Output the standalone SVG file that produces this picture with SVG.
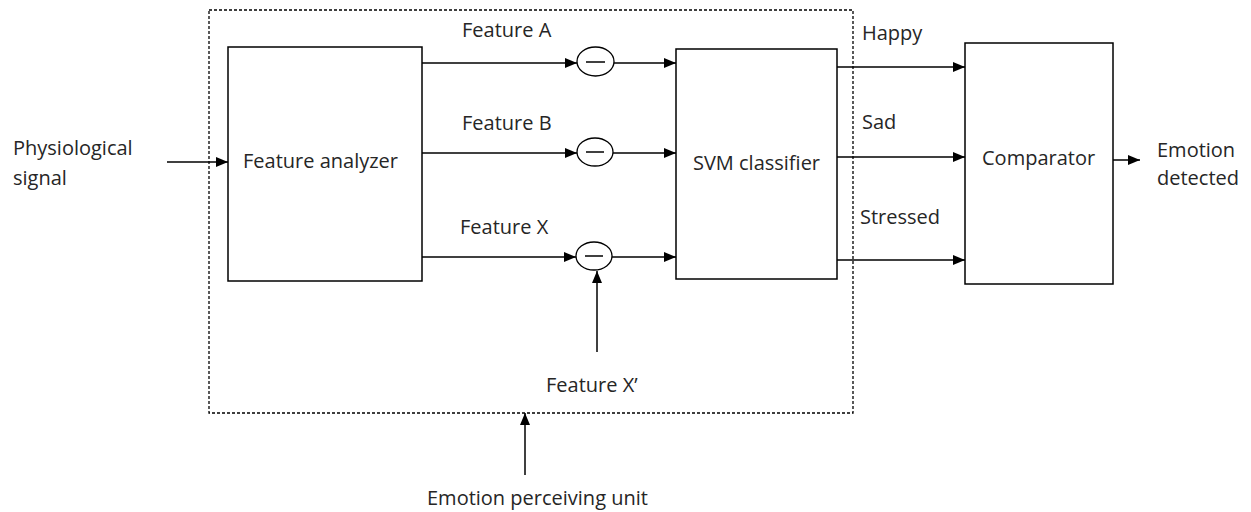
<svg xmlns="http://www.w3.org/2000/svg" width="1251" height="512" viewBox="0 0 1251 512">
<style>
.box{fill:#fff;stroke:#000;stroke-width:1.5}
.ln{fill:none;stroke:#000;stroke-width:1.5}
.t{font-family:"Open Sans","Liberation Sans",sans-serif;font-size:20px;fill:#262626}
.sub{fill:#fff;stroke:#000;stroke-width:1.3}
</style>
<defs>
<marker id="ah" markerWidth="12" markerHeight="10" refX="12" refY="5" orient="auto" markerUnits="userSpaceOnUse">
<path d="M0,0 L12,5 L0,10 Z" fill="#000"/>
</marker>
</defs>
<rect x="0" y="0" width="1251" height="512" fill="#fff"/>
<g id="unit">
<rect x="209" y="10" width="644" height="403" fill="none" stroke="#000" stroke-width="1.3" stroke-dasharray="3,2"/>
</g>
<g id="connectors">
<line class="ln" x1="167" y1="162" x2="228" y2="162" marker-end="url(#ah)"/>
<line class="ln" x1="422" y1="63" x2="577" y2="63" marker-end="url(#ah)"/>
<line class="ln" x1="614" y1="63" x2="676" y2="63" marker-end="url(#ah)"/>
<line class="ln" x1="422" y1="153" x2="577" y2="153" marker-end="url(#ah)"/>
<line class="ln" x1="613" y1="153" x2="676" y2="153" marker-end="url(#ah)"/>
<line class="ln" x1="422" y1="257" x2="576" y2="257" marker-end="url(#ah)"/>
<line class="ln" x1="612" y1="257" x2="676" y2="257" marker-end="url(#ah)"/>
<line class="ln" x1="597" y1="352" x2="597" y2="271" marker-end="url(#ah)"/>
<line class="ln" x1="837" y1="67" x2="965" y2="67" marker-end="url(#ah)"/>
<line class="ln" x1="837" y1="157" x2="965" y2="157" marker-end="url(#ah)"/>
<line class="ln" x1="837" y1="260" x2="965" y2="260" marker-end="url(#ah)"/>
<line class="ln" x1="1113" y1="160" x2="1140" y2="160" marker-end="url(#ah)"/>
<line class="ln" x1="525" y1="475" x2="525" y2="413" marker-end="url(#ah)"/>
</g>
<g id="analyzer">
<rect class="box" x="228" y="47" width="194" height="234"/>
<text class="t" x="243" y="168">Feature analyzer</text>
</g>
<g id="subA">
<ellipse class="sub" cx="595.5" cy="61.5" rx="18.5" ry="14.5"/>
<line class="ln" x1="586" y1="62" x2="605" y2="62"/>
</g>
<g id="subB">
<ellipse class="sub" cx="595" cy="152" rx="18" ry="14"/>
<line class="ln" x1="586" y1="152" x2="604" y2="152"/>
</g>
<g id="subX">
<ellipse class="sub" cx="594" cy="256" rx="18" ry="14"/>
<line class="ln" x1="585" y1="256" x2="603" y2="256"/>
</g>
<g id="svm">
<rect class="box" x="676" y="49" width="161" height="230"/>
<text class="t" x="756.5" y="170" text-anchor="middle">SVM classifier</text>
</g>
<g id="comparator">
<rect class="box" x="965" y="43" width="148" height="241"/>
<text class="t" x="982" y="165">Comparator</text>
</g>
<g id="labels">
<text class="t" x="13" y="155">Physiological</text>
<text class="t" x="13" y="185">signal</text>
<text class="t" x="462" y="37">Feature A</text>
<text class="t" x="462" y="130">Feature B</text>
<text class="t" x="460" y="234">Feature X</text>
<text class="t" x="546" y="392">Feature X’</text>
<text class="t" x="862" y="40">Happy</text>
<text class="t" x="862" y="129">Sad</text>
<text class="t" x="860" y="224">Stressed</text>
<text class="t" x="1157" y="157">Emotion</text>
<text class="t" x="1157" y="185">detected</text>
<text class="t" x="427" y="505">Emotion perceiving unit</text>
</g>
</svg>
